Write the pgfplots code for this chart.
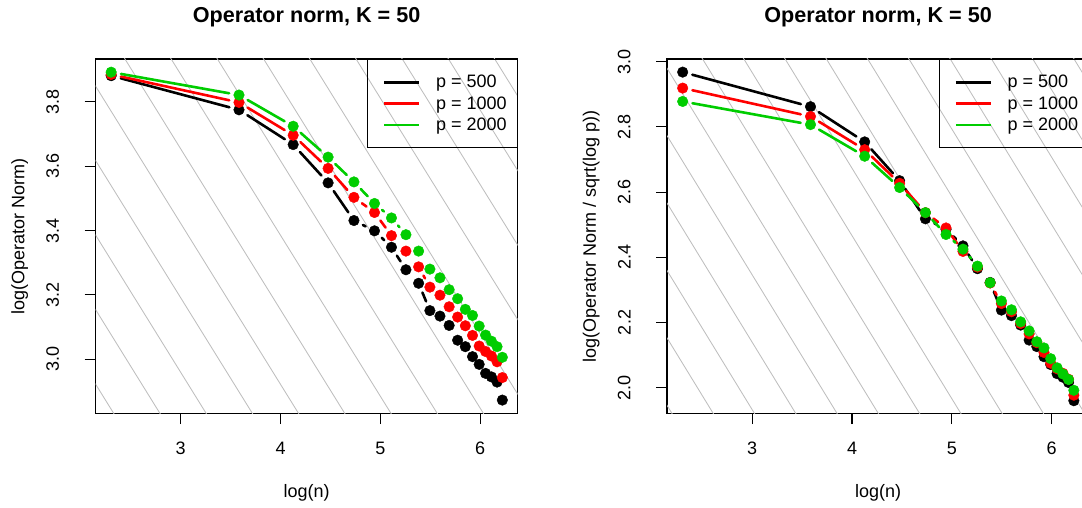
\documentclass[border=0pt]{standalone}
\usepackage{pgfplots}
\pgfplotsset{compat=1.18}
\usepackage{pgfplotstable}
\usepackage{fontspec}
\setmainfont{Liberation Sans}
\definecolor{rgreen}{HTML}{00CD00}
\definecolor{rred}{HTML}{FF0000}
\definecolor{rgray}{HTML}{BEBEBE}

\pgfplotstableread{
x b r g
2.303 3.881 3.885 3.892
3.584 3.775 3.798 3.821
4.127 3.667 3.696 3.724
4.477 3.548 3.593 3.628
4.736 3.431 3.503 3.551
4.942 3.399 3.456 3.484
5.112 3.348 3.384 3.439
5.257 3.278 3.336 3.387
5.384 3.236 3.287 3.336
5.497 3.151 3.224 3.280
5.598 3.134 3.199 3.253
5.690 3.105 3.163 3.216
5.775 3.059 3.131 3.188
5.852 3.039 3.104 3.155
5.924 3.008 3.074 3.136
5.991 2.984 3.041 3.103
6.055 2.956 3.024 3.075
6.114 2.945 3.010 3.056
6.170 2.929 2.992 3.039
6.223 2.873 2.943 3.006
}\lefttab

\pgfplotstableread{
x b r g
2.303 2.968 2.919 2.878
3.584 2.862 2.832 2.807
4.127 2.754 2.730 2.710
4.477 2.635 2.627 2.614
4.736 2.518 2.537 2.537
4.942 2.486 2.490 2.470
5.112 2.435 2.418 2.425
5.257 2.365 2.370 2.373
5.384 2.323 2.321 2.322
5.497 2.238 2.258 2.266
5.598 2.221 2.233 2.239
5.690 2.192 2.197 2.202
5.775 2.146 2.165 2.174
5.852 2.126 2.138 2.141
5.924 2.095 2.108 2.122
5.991 2.071 2.075 2.089
6.055 2.043 2.058 2.061
6.114 2.032 2.044 2.042
6.170 2.016 2.026 2.025
6.223 1.960 1.977 1.992
}\righttab

\pgfplotsset{
  rbase/.style={
    scale only axis, width=422.2pt, height=354.3pt,
    xmin=2.146, xmax=6.377,
    axis line style={line width=1.1pt, black},
    every tick/.style={line width=1.1pt, black},
    tick align=outside, major tick length=10.8pt,
    xtick pos=lower, ytick pos=left,
    xtick={3,4,5,6},
    tick label style={font=\fontsize{18pt}{21.6pt}\selectfont},
    /pgf/number format/assume math mode=true,
    xticklabel style={anchor=north, inner sep=0pt, yshift=-17.7pt},
    yticklabel style={xshift=-25.5pt, rotate=90, anchor=south, inner sep=0pt},
    label style={font=\fontsize{18pt}{21.6pt}\selectfont},
    xlabel={log(n)},
    xlabel style={at={(axis description cs:0.5,-0.239)}, anchor=base, inner sep=0pt},
    ylabel style={at={(axis description cs:-0.1683,0.5)}, anchor=base, inner sep=0pt},
    title style={at={(axis description cs:0.5,1.0847)}, anchor=base, inner sep=0pt, yshift=0pt,
      font=\fontsize{21.6pt}{26pt}\selectfont\bfseries},
    legend style={at={(rel axis cs:1,1)}, anchor=north east, draw=black,
      line width=1.1pt, fill=none, inner xsep=0pt, inner ysep=15.8pt,
      row sep=7.2pt, column sep=0pt,
      font=\fontsize{18pt}{21.6pt}\selectfont, nodes={inner sep=0pt}},
    legend cell align=left,
  },
  gl/.style={rgray, line width=0.85pt, forget plot},
  seg/.style 2 args={#1, line width=2.6pt, line cap=round, forget plot, mark=none,
    shorten >=10pt, shorten <=10pt, restrict expr to domain={\coordindex}{#2}},
  pts/.style={#1, only marks, mark=*, mark size=5.3pt,
    mark options={solid, fill=#1, draw=#1, line width=0.4pt},
    legend image code/.code={
      \path[draw=none, fill=none] (0pt,0pt) -- (68.4pt,0pt);
      \draw[draw=#1, line width=2.6pt] (16.7pt,0pt) -- (51.7pt,0pt);}},
}

\begin{document}
\begin{tikzpicture}
\useasboundingbox (0,0) rectangle (1082pt,508pt);
\clip (0,0) rectangle (1082pt,508pt);

\begin{axis}[rbase, at={(95.5pt,94.7pt)}, anchor=south west,
  ymin=2.832, ymax=3.933,
  ytick={3.0,3.2,3.4,3.6,3.8}, yticklabels={3.0,3.2,3.4,3.6,3.8},
  ylabel={log(Operator Norm)},
  title={Operator norm, K = 50}]
\addplot[gl] coordinates {(1,3.496) (8,-0.004)};
\addplot[gl] coordinates {(1,3.7276) (8,0.2276)};
\addplot[gl] coordinates {(1,3.9592) (8,0.4592)};
\addplot[gl] coordinates {(1,4.1908) (8,0.6908)};
\addplot[gl] coordinates {(1,4.422) (8,0.922)};
\addplot[gl] coordinates {(1,4.6536) (8,1.1536)};
\addplot[gl] coordinates {(1,4.8852) (8,1.3852)};
\addplot[gl] coordinates {(1,5.1168) (8,1.6168)};
\addplot[gl] coordinates {(1,5.3484) (8,1.8484)};
\addplot[gl] coordinates {(1,5.58) (8,2.08)};
\addplot[gl] coordinates {(1,5.8116) (8,2.3116)};
\addplot[gl] coordinates {(1,6.0432) (8,2.5432)};
\addplot[gl] coordinates {(1,6.2748) (8,2.7748)};
\addplot[gl] coordinates {(1,6.5064) (8,3.0064)};
% black
\addplot[seg={black}{0:1}] table[x=x, y=b] {\lefttab};
\addplot[seg={black}{1:2}] table[x=x, y=b] {\lefttab};
\addplot[seg={black}{2:3}] table[x=x, y=b] {\lefttab};
\addplot[seg={black}{3:4}] table[x=x, y=b] {\lefttab};
\addplot[seg={black}{4:5}] table[x=x, y=b] {\lefttab};
\addplot[seg={black}{5:6}] table[x=x, y=b] {\lefttab};
\addplot[seg={black}{6:7}] table[x=x, y=b] {\lefttab};
\addplot[seg={black}{8:9}] table[x=x, y=b] {\lefttab};
\addplot[pts=black] table[x=x, y=b] {\lefttab};
% red
\addplot[seg={rred}{0:1}] table[x=x, y=r] {\lefttab};
\addplot[seg={rred}{1:2}] table[x=x, y=r] {\lefttab};
\addplot[seg={rred}{2:3}] table[x=x, y=r] {\lefttab};
\addplot[seg={rred}{3:4}] table[x=x, y=r] {\lefttab};
\addplot[seg={rred}{4:5}] table[x=x, y=r] {\lefttab};
\addplot[seg={rred}{5:6}] table[x=x, y=r] {\lefttab};
\addplot[seg={rred}{8:9}] table[x=x, y=r] {\lefttab};
\addplot[pts=rred] table[x=x, y=r] {\lefttab};
% green
\addplot[seg={rgreen}{0:1}] table[x=x, y=g] {\lefttab};
\addplot[seg={rgreen}{1:2}] table[x=x, y=g] {\lefttab};
\addplot[seg={rgreen}{2:3}] table[x=x, y=g] {\lefttab};
\addplot[seg={rgreen}{3:4}] table[x=x, y=g] {\lefttab};
\addplot[seg={rgreen}{4:5}] table[x=x, y=g] {\lefttab};
\addplot[seg={rgreen}{5:6}] table[x=x, y=g] {\lefttab};
\addplot[seg={rgreen}{6:7}] table[x=x, y=g] {\lefttab};
\addplot[pts=rgreen] table[x=x, y=g] {\lefttab};
\legend{p = 500\kern10.4pt, p = 1000\kern10.4pt, p = 2000\kern10.4pt}
\end{axis}

\begin{axis}[rbase, at={(667pt,94.7pt)}, anchor=south west,
  ymin=1.9215, ymax=3.0083,
  ytick={2.0,2.2,2.4,2.6,2.8,3.0}, yticklabels={2.0,2.2,2.4,2.6,2.8,3.0},
  ylabel={log(Operator Norm / sqrt(log p))},
  title={Operator norm, K = 50}]
\addplot[gl] coordinates {(1,2.5188) (8,-0.9812)};
\addplot[gl] coordinates {(1,2.7256) (8,-0.7744)};
\addplot[gl] coordinates {(1,2.9324) (8,-0.5676)};
\addplot[gl] coordinates {(1,3.1392) (8,-0.3608)};
\addplot[gl] coordinates {(1,3.346) (8,-0.154)};
\addplot[gl] coordinates {(1,3.5528) (8,0.0528)};
\addplot[gl] coordinates {(1,3.7596) (8,0.2596)};
\addplot[gl] coordinates {(1,3.9664) (8,0.4664)};
\addplot[gl] coordinates {(1,4.1732) (8,0.6732)};
\addplot[gl] coordinates {(1,4.38) (8,0.88)};
\addplot[gl] coordinates {(1,4.5868) (8,1.0868)};
\addplot[gl] coordinates {(1,4.7936) (8,1.2936)};
\addplot[gl] coordinates {(1,5.0004) (8,1.5004)};
\addplot[gl] coordinates {(1,5.2072) (8,1.7072)};
\addplot[gl] coordinates {(1,5.414) (8,1.914)};
\addplot[gl] coordinates {(1,5.6208) (8,2.1208)};
% black
\addplot[seg={black}{0:1}] table[x=x, y=b] {\righttab};
\addplot[seg={black}{1:2}] table[x=x, y=b] {\righttab};
\addplot[seg={black}{2:3}] table[x=x, y=b] {\righttab};
\addplot[seg={black}{3:4}] table[x=x, y=b] {\righttab};
\addplot[seg={black}{4:5}] table[x=x, y=b] {\righttab};
\addplot[seg={black}{5:6}] table[x=x, y=b] {\righttab};
\addplot[seg={black}{6:7}] table[x=x, y=b] {\righttab};
\addplot[seg={black}{8:9}] table[x=x, y=b] {\righttab};
\addplot[pts=black] table[x=x, y=b] {\righttab};
% red
\addplot[seg={rred}{0:1}] table[x=x, y=r] {\righttab};
\addplot[seg={rred}{1:2}] table[x=x, y=r] {\righttab};
\addplot[seg={rred}{2:3}] table[x=x, y=r] {\righttab};
\addplot[seg={rred}{3:4}] table[x=x, y=r] {\righttab};
\addplot[seg={rred}{4:5}] table[x=x, y=r] {\righttab};
\addplot[seg={rred}{5:6}] table[x=x, y=r] {\righttab};
\addplot[seg={rred}{8:9}] table[x=x, y=r] {\righttab};
\addplot[pts=rred] table[x=x, y=r] {\righttab};
% green
\addplot[seg={rgreen}{0:1}] table[x=x, y=g] {\righttab};
\addplot[seg={rgreen}{1:2}] table[x=x, y=g] {\righttab};
\addplot[seg={rgreen}{2:3}] table[x=x, y=g] {\righttab};
\addplot[seg={rgreen}{3:4}] table[x=x, y=g] {\righttab};
\addplot[seg={rgreen}{4:5}] table[x=x, y=g] {\righttab};
\addplot[seg={rgreen}{5:6}] table[x=x, y=g] {\righttab};
\addplot[seg={rgreen}{6:7}] table[x=x, y=g] {\righttab};
\addplot[pts=rgreen] table[x=x, y=g] {\righttab};
\legend{p = 500\kern10.4pt, p = 1000\kern10.4pt, p = 2000\kern10.4pt}
\end{axis}
\end{tikzpicture}
\end{document}
